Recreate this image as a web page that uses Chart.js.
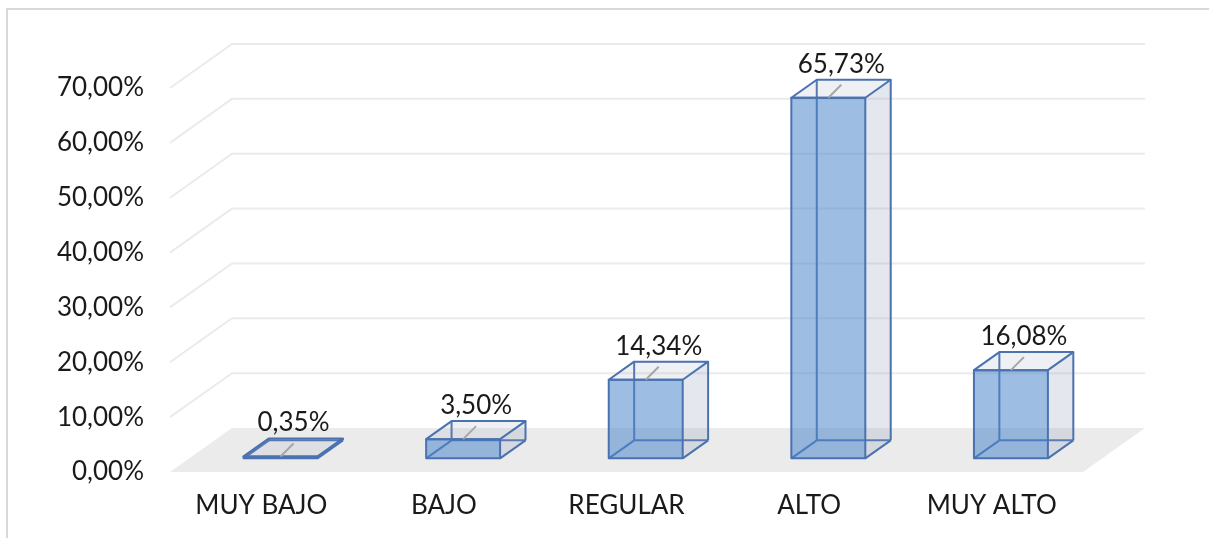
<!DOCTYPE html>
<html>
<head>
<meta charset="utf-8">
<script src="https://cdn.jsdelivr.net/npm/chart.js@4.4.1/dist/chart.umd.min.js"></script>
<style>
  html, body { margin: 0; padding: 0; background: #fff; }
  #wrap { position: relative; width: 1209px; height: 538px; }
</style>
</head>
<body>
<div id="wrap"><canvas id="chart"></canvas></div>
<script>
var categories = ['MUY BAJO', 'BAJO', 'REGULAR', 'ALTO', 'MUY ALTO'];
var percents = [0.35, 3.50, 14.34, 65.73, 16.08];
var yTicks = [0, 10, 20, 30, 40, 50, 60, 70];

var FONT = 'Lato, "Open Sans", sans-serif';
var depth = { dx: 62, dy: -44 };   // front plane -> back wall
var barDepth = [0.31, 0.72];       // boxes sit between these fractions of the depth
var edge = '#4a72b0';

var fmt = function(v){
  return v.toFixed(2).replace('.', ',') + '%';
};

//outer frame
var frame = {
  id: 'frame',
  beforeDraw: function(chart){
    var ctx = chart.ctx;
    ctx.save();
    ctx.fillStyle = '#fff';
    ctx.fillRect(0, 0, chart.width, chart.height);
    ctx.strokeStyle = '#d9d9d9';
    ctx.lineWidth = 2;
    ctx.beginPath();
    ctx.moveTo(7, chart.height);
    ctx.lineTo(7, 9);
    ctx.lineTo(chart.width, 9);
    ctx.stroke();
    ctx.restore();
  }
};

//back wall gridlines + floor
var walls = {
  id: 'walls',
  beforeDatasetsDraw: function(chart){
    var ctx = chart.ctx, y = chart.scales.y, a = chart.chartArea;
    ctx.save();
    ctx.strokeStyle = '#ebebeb';
    ctx.lineWidth = 2;
    yTicks.forEach(function(v){
      if(v === 0) return;
      var py = y.getPixelForValue(v);
      ctx.beginPath();
      ctx.moveTo(a.left, py);
      ctx.lineTo(a.left + depth.dx, py + depth.dy);
      ctx.lineTo(a.right + depth.dx, py + depth.dy);
      ctx.stroke();
    });

    var py0 = y.getPixelForValue(0);
    ctx.fillStyle = '#ebebeb';
    ctx.beginPath();
    ctx.moveTo(a.left, py0);
    ctx.lineTo(a.right, py0);
    ctx.lineTo(a.right + depth.dx, py0 + depth.dy);
    ctx.lineTo(a.left + depth.dx, py0 + depth.dy);
    ctx.closePath();
    ctx.fill();
    ctx.restore();
  }
};

var poly = function(ctx, pts){
  ctx.beginPath();
  ctx.moveTo(pts[0][0], pts[0][1]);
  for(var i = 1; i < pts.length; i++) ctx.lineTo(pts[i][0], pts[i][1]);
  ctx.closePath();
};
var seg = function(ctx, p, q){
  ctx.beginPath();
  ctx.moveTo(p[0], p[1]);
  ctx.lineTo(q[0], q[1]);
  ctx.stroke();
};

//3d boxes built from the bar elements
var boxes = {
  id: 'boxes',
  afterDatasetsDraw: function(chart){
    var ctx = chart.ctx, meta = chart.getDatasetMeta(0);
    var fx = depth.dx*barDepth[0], fy = depth.dy*barDepth[0],
      bx = depth.dx*barDepth[1], by = depth.dy*barDepth[1];

    ctx.save();
    ctx.lineJoin = 'round';
    ctx.lineWidth = 2;
    meta.data.forEach(function(bar, i){
      var w = bar.width, x0 = bar.x - w/2, x1 = bar.x + w/2, top = bar.y, base = bar.base;
      var ftl = [x0 + fx, top + fy], ftr = [x1 + fx, top + fy],
        fbl = [x0 + fx, base + fy], fbr = [x1 + fx, base + fy],
        btl = [x0 + bx, top + by], btr = [x1 + bx, top + by],
        bbl = [x0 + bx, base + by], bbr = [x1 + bx, base + by];

      //hidden edges seen through the faces
      ctx.strokeStyle = edge;
      seg(ctx, bbl, btl);
      seg(ctx, bbl, bbr);
      seg(ctx, fbl, bbl);

      //side and top
      ctx.fillStyle = 'rgba(148,160,184,0.25)';
      poly(ctx, [ftr, btr, bbr, fbr]);
      ctx.fill();
      ctx.fillStyle = 'rgba(148,160,184,0.16)';
      poly(ctx, [ftl, btl, btr, ftr]);
      ctx.fill();

      //front
      ctx.fillStyle = 'rgba(77,135,204,0.55)';
      poly(ctx, [ftl, ftr, fbr, fbl]);
      ctx.fill();

      ctx.strokeStyle = edge;
      poly(ctx, [ftl, ftr, fbr, fbl]);
      ctx.stroke();
      poly(ctx, [ftl, btl, btr, ftr]);
      ctx.stroke();
      seg(ctx, btr, bbr);
      seg(ctx, fbr, bbr);

      //leader line + value label
      var cx = bar.x + fx, ty = top + fy;
      ctx.strokeStyle = '#a6a6a6';
      seg(ctx, [cx, ty], [cx + 13, ty - 13]);

      ctx.fillStyle = '#1a1a1a';
      ctx.font = '26px ' + FONT;
      ctx.textAlign = 'center';
      ctx.textBaseline = 'alphabetic';
      ctx.fillText(fmt(percents[i]), cx + 13, ty - 25);
    });
    ctx.restore();
  }
};

Chart.defaults.font.family = FONT;
Chart.defaults.font.size = 26;
Chart.defaults.color = '#1a1a1a';

new Chart(document.getElementById('chart'), {
  type: 'bar',
  data: {
    labels: categories,
    datasets: [{
      data: percents,
      backgroundColor: 'rgba(0,0,0,0)',
      borderWidth: 0,
      barPercentage: 0.405,
      categoryPercentage: 1
    }]
  },
  options: {
    responsive: true,
    maintainAspectRatio: false,
    animation: false,
    layout: { padding: { top: 88, right: 126, left: 0, bottom: 0 } },
    plugins: { legend: { display: false }, tooltip: { enabled: false } },
    scales: {
      x: {
        grid: { display: false, drawTicks: false },
        border: { display: false },
        ticks: { padding: 18, maxRotation: 0 },
        afterFit: function(s){ s.height = 66; }
      },
      y: {
        min: 0,
        max: 70,
        grid: { display: false, drawTicks: false },
        border: { display: false },
        ticks: {
          stepSize: 10,
          padding: 26,
          callback: function(v){ return fmt(v); }
        },
        afterFit: function(s){ s.width = 170; }
      }
    }
  },
  plugins: [frame, walls, boxes]
});
</script>
</body>
</html>
